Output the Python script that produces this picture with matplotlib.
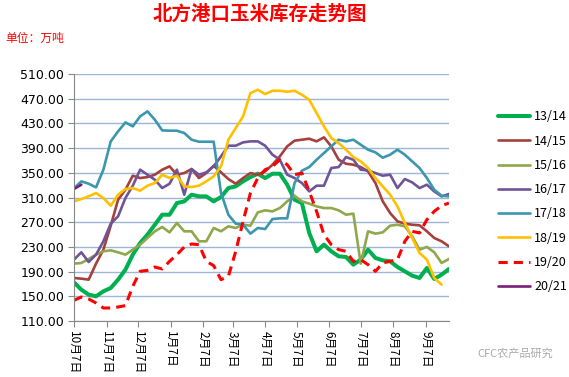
import matplotlib.pyplot as plt

plt.rcParams['font.family'] = ['Noto Sans CJK SC', 'DejaVu Sans']

# weekly points, x in days from Oct 7
s1314 = [172.7, 160.8, 152.7, 150.0, 158.1, 163.5, 177.0, 193.2, 217.5, 236.4, 250.0, 266.0, 282.2, 282.2,
         301.1, 303.8, 314.6, 311.9, 311.9, 303.8, 310.8, 325.4, 328.1, 336.2, 343.2, 348.6, 341.6, 348.6,
         348.6, 330.8, 306.5, 301.1, 252.6, 222.9, 233.7, 222.9, 214.8, 213.7, 201.3, 209.4, 225.6, 212.1,
         208.3, 206.7, 197.5, 190.5, 183.5, 179.7, 195.9, 178.1, 185.1, 194.3]
s1415 = [179.7, 178.6, 177.0, 202.9, 225.6, 264.4, 306.5, 322.7, 345.4, 341.6, 343.2, 347.0, 355.1, 360.5,
         347.0, 349.7, 356.2, 341.6, 349.7, 361.6, 350.8, 340.0, 332.4, 341.6, 349.7, 347.0, 352.4, 363.2,
         376.7, 392.9, 402.1, 403.7, 405.3, 401.0, 407.5, 392.9, 371.3, 364.8, 363.2, 359.4, 352.4, 333.5,
         303.8, 284.9, 271.5, 267.7, 266.0, 265.0, 255.3, 244.5, 239.1, 231.0]
s1516 = [202.9, 204.0, 210.5, 217.5, 222.9, 224.5, 221.3, 217.5, 225.6, 233.7, 244.5, 255.3, 262.3, 253.6,
         268.8, 255.3, 255.3, 239.1, 239.1, 260.7, 255.3, 263.4, 260.7, 266.0, 264.4, 286.0, 289.3, 287.6,
         293.0, 303.8, 313.0, 303.8, 300.1, 295.7, 293.0, 293.0, 289.3, 282.2, 283.9, 202.9, 255.3, 251.5,
         253.6, 264.4, 266.0, 263.4, 247.2, 225.6, 230.0, 221.3, 204.0, 210.5]
s1617 = [209.4, 221.3, 205.6, 217.5, 239.1, 267.7, 279.6, 309.2, 329.2, 355.1, 347.0, 338.9, 325.4, 332.4,
         355.1, 314.6, 356.2, 347.0, 350.8, 360.5, 376.7, 394.0, 394.0, 399.4, 401.0, 401.0, 394.0, 379.4,
         371.3, 347.0, 341.6, 333.5, 320.0, 329.2, 329.2, 357.8, 359.4, 375.6, 371.3, 355.1, 354.0, 349.7,
         345.4, 347.0, 325.4, 340.0, 334.6, 325.4, 330.8, 320.0, 311.9, 315.7]
s1718 = [325.0, 336.2, 332.4, 326.5, 355.1, 401.0, 417.2, 431.7, 425.3, 441.5, 449.6, 436.0, 418.8, 418.3,
         418.3, 414.5, 403.7, 400.4, 400.4, 400.4, 317.3, 282.2, 267.7, 266.0, 251.5, 260.7, 259.0, 275.2,
         276.3, 276.3, 333.5, 353.5, 359.4, 371.3, 382.1, 392.9, 403.7, 401.0, 403.7, 395.6, 387.5, 383.2,
         374.5, 379.4, 387.5, 379.4, 368.6, 357.8, 341.6, 322.7, 313.0, 311.9]
s1819 = [303.8, 307.6, 312.0, 317.3, 309.2, 296.8, 314.6, 323.8, 325.4, 321.1, 329.2, 333.5, 347.0, 341.6,
         345.4, 328.1, 327.0, 329.2, 336.2, 344.3, 360.5, 403.7, 422.6, 441.5, 479.2, 484.6, 477.6, 483.0,
         483.0, 481.4, 483.0, 476.5, 468.4, 446.9, 425.3, 406.4, 398.3, 387.5, 375.6, 368.6, 357.8, 341.6,
         328.1, 314.6, 295.7, 268.8, 244.5, 220.2, 209.4, 179.7, 168.9]
s1920 = [143.5, 148.9, 145.7, 139.2, 131.1, 131.1, 132.7, 134.9, 166.2, 190.5, 192.1, 197.5, 194.3, 206.7,
         217.5, 229.9, 234.8, 233.7, 206.7, 199.7, 177.0, 182.4, 222.9, 271.5, 317.3, 341.6, 355.1, 360.5,
         371.3, 363.2, 347.0, 349.7, 320.0, 287.6, 249.9, 233.7, 225.6, 222.9, 206.7, 209.4, 201.3, 190.5,
         204.0, 206.7, 209.4, 239.1, 255.3, 252.6, 274.2, 287.6, 296.8, 301.1]
s2021 = [323.8, 330.8]

series = [
    ('13/14', s1314, '#00B050', '-', 2.9),
    ('14/15', s1415, '#A5403D', '-', 1.9),
    ('15/16', s1516, '#8EA84B', '-', 1.9),
    ('16/17', s1617, '#6F5597', '-', 1.9),
    ('17/18', s1718, '#3C97AE', '-', 1.9),
    ('18/19', s1819, '#FFC000', '-', 1.9),
    ('19/20', s1920, '#FF0000', '--', 2.2),
    ('20/21', s2021, '#7A1E7A', '-', 1.9),
]

tick_days = [0, 31, 61, 92, 123, 151, 182, 212, 243, 273, 304, 335]
tick_labels = ['10月7日', '11月7日', '12月7日', '1月7日', '2月7日', '3月7日',
               '4月7日', '5月7日', '6月7日', '7月7日', '8月7日', '9月7日']
y_ticks = list(range(110, 511, 40))

fig = plt.figure(figsize=(5.69, 3.77), dpi=100)
ax = fig.add_axes([0.130, 0.1485, 0.659, 0.655])

for name, vals, color, ls, lw in series:
    days = [7 * i for i in range(len(vals))]
    ax.plot(days, vals, color=color, linestyle=ls, linewidth=lw, label=name,
            dashes=(3, 2) if ls == '--' else (None, None), solid_capstyle='round')

ax.set_xlim(0, 357)
ax.set_ylim(110, 510)
ax.set_yticks(y_ticks)
ax.set_yticklabels([f'{v:.2f}' for v in y_ticks], fontsize=9, family='DejaVu Sans')
ax.set_xticks(tick_days)
ax.set_xticklabels(tick_labels, rotation=-90, fontsize=8.5, va='top', ha='center')
ax.grid(axis='y', color='#9DB5D6', linewidth=1)
ax.set_axisbelow(True)
for sp in ['top', 'right']:
    ax.spines[sp].set_visible(False)
for sp in ['left', 'bottom']:
    ax.spines[sp].set_color('#888888')
ax.tick_params(axis='both', color='#888888', length=4, pad=3)

fig.legend(loc='upper left', bbox_to_anchor=(0.855, 0.737), frameon=False, fontsize=9,
           handlelength=2.6, labelspacing=0.9, handletextpad=0.3)

fig.text(0.457, 0.962, '北方港口玉米库存走势图', color='#FF0000', fontsize=14,
         fontweight='bold', ha='center', va='center')
fig.text(0.01, 0.898, '单位：万吨', color='#FF0000', fontsize=8.5, ha='left', va='center')
fig.text(0.972, 0.062, 'CFC农产品研究', color='#AAAAAA', fontsize=8, ha='right', va='center')

fig.savefig('out.png', dpi=100)
